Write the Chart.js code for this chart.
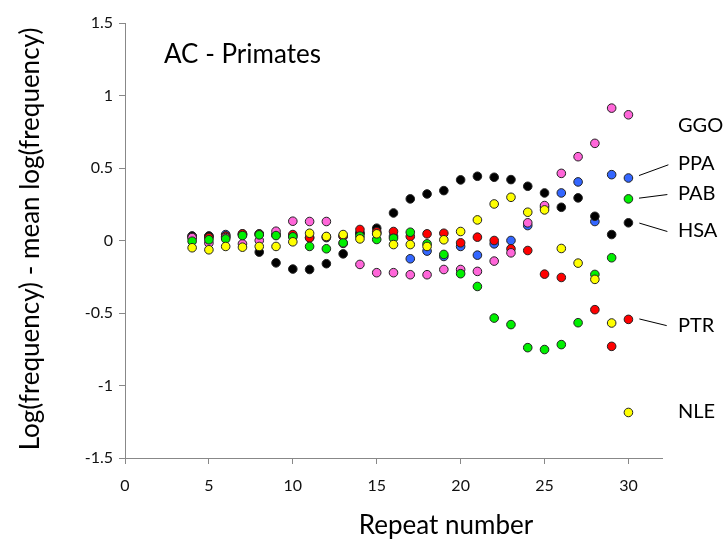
<!DOCTYPE html>
<html>
<head>
<meta charset="utf-8">
<title>AC - Primates</title>
<script src="https://cdn.jsdelivr.net/npm/chart.js@4.4.0/dist/chart.umd.min.js"></script>
<style>
  html, body { margin: 0; padding: 0; background: #fff; }
  #wrap { width: 723px; height: 546px; }
</style>
</head>
<body>
<div id="wrap"><canvas id="chart" width="723" height="546"></canvas></div>
<script>
// repeat numbers on the x axis
const repeats = [4, 5, 6, 7, 8, 9, 10, 11, 12, 13, 14, 15, 16, 17, 18, 19, 20, 21, 22, 23, 24, 25, 26, 27, 28, 29, 30];

// log(frequency) - mean log(frequency), one list per species
const hsa = [0.03, 0.03, 0.03, 0.045, -0.08, -0.154, -0.197, -0.2, -0.16, -0.092, 0.05, 0.085, 0.19, 0.287, 0.321, 0.344, 0.418, 0.443, 0.436, 0.42, 0.374, 0.328, 0.229, 0.294, 0.167, 0.041, 0.122];
const ppa = [0.03, 0.03, 0.041, 0.04, 0.045, 0.04, 0.03, 0.02, 0.02, 0.03, 0.05, 0.05, 0.03, -0.126, -0.073, -0.11, -0.041, -0.101, -0.023, 0.0, 0.103, 0.23, 0.328, 0.404, 0.131, 0.454, 0.431];
const ptr = [0.02, 0.02, 0.03, 0.046, 0.045, 0.04, 0.041, 0.018, 0.025, 0.03, 0.076, 0.06, 0.062, 0.028, 0.046, 0.05, -0.016, 0.023, 0.0, -0.057, -0.069, -0.232, -0.255, null, -0.477, -0.73, -0.544];
const ggo = [0.02, -0.018, 0.02, -0.023, 0.0, 0.064, 0.133, 0.131, 0.131, -0.02, -0.165, -0.222, -0.222, -0.236, -0.236, -0.2, -0.2, -0.213, -0.142, -0.085, 0.122, 0.241, 0.463, 0.578, 0.67, 0.913, 0.867];
const pab = [-0.005, 0.005, 0.011, 0.034, 0.039, 0.034, 0.025, -0.041, -0.057, -0.016, 0.03, 0.007, 0.016, 0.057, -0.023, -0.096, -0.229, -0.317, -0.535, -0.58, -0.739, -0.752, -0.718, -0.567, -0.234, -0.119, 0.287];
const nle = [-0.05, -0.064, -0.041, -0.046, -0.041, -0.041, -0.009, 0.05, 0.028, 0.041, 0.011, 0.046, -0.028, -0.028, -0.041, 0.005, 0.062, 0.142, 0.252, 0.298, 0.195, 0.211, -0.055, -0.156, -0.268, -0.569, -1.186];

const xTicks = [0, 5, 10, 15, 20, 25, 30];
const yTicks = [-1.5, -1, -0.5, 0, 0.5, 1, 1.5];

// species names at the right edge, with optional leader lines (data units)
const tags = [
    { name: 'GGO', y: 0.79 },
    { name: 'PPA', y: 0.529, line: [30.63, 0.448, 32.38, 0.522] },
    { name: 'PAB', y: 0.322, line: [30.63, 0.292, 32.32, 0.317] },
    { name: 'HSA', y: 0.069, line: [30.65, 0.12, 32.32, 0.062] },
    { name: 'PTR', y: -0.587, line: [30.65, -0.541, 32.28, -0.587] },
    { name: 'NLE', y: -1.178 }
];

const FONT = 'Lato, "Open Sans", sans-serif';

function points(values) {
    return repeats.map((r, i) => ({ x: r, y: values[i] })).filter(p => p.y !== null);
}

function series(label, values, color, order) {
    return {
        label: label,
        data: points(values),
        backgroundColor: color,
        borderColor: '#222',
        borderWidth: 1,
        pointRadius: 4.3,
        pointHoverRadius: 4.3,
        order: order
    };
}

/*** ======== Title, species names, axis titles ======== ***/
const annotate = {
    id: 'annotate',
    afterDatasetsDraw(chart) {
        const ctx = chart.ctx;
        const xs = chart.scales.x;
        const ys = chart.scales.y;
        ctx.save();
        ctx.fillStyle = '#000';

        ctx.font = '26px ' + FONT;
        ctx.textAlign = 'left';
        ctx.textBaseline = 'middle';
        ctx.fillText('AC - Primates', 164, 55);

        ctx.font = '20px ' + FONT;
        tags.forEach(t => {
            ctx.fillText(t.name, xs.getPixelForValue(32.95), ys.getPixelForValue(t.y));
            if (t.line) {
                ctx.beginPath();
                ctx.moveTo(xs.getPixelForValue(t.line[0]), ys.getPixelForValue(t.line[1]));
                ctx.lineTo(xs.getPixelForValue(t.line[2]), ys.getPixelForValue(t.line[3]));
                ctx.strokeStyle = '#000';
                ctx.lineWidth = 1;
                ctx.stroke();
            }
        });

        ctx.font = '26px ' + FONT;
        ctx.textAlign = 'center';
        ctx.fillText('Repeat number', 446, 526);

        ctx.translate(31, 239);
        ctx.rotate(-Math.PI / 2);
        ctx.fillText('Log(frequency) - mean log(frequency)', 0, 0);
        ctx.restore();
    }
};

new Chart(document.getElementById('chart'), {
    type: 'scatter',
    data: {
        datasets: [
            series('NLE', nle, '#FFFF00', 0),
            series('PAB', pab, '#00F000', 1),
            series('GGO', ggo, '#FF66D9', 2),
            series('PTR', ptr, '#FF0000', 3),
            series('HSA', hsa, '#000000', 4),
            series('PPA', ppa, '#3366FF', 5)
        ]
    },
    options: {
        responsive: false,
        animation: false,
        layout: { padding: { top: 23, right: 61, left: 0, bottom: 0 } },
        plugins: {
            legend: { display: false },
            tooltip: { enabled: false }
        },
        scales: {
            x: {
                type: 'linear',
                min: 0,
                max: 32,
                afterBuildTicks: s => { s.ticks = xTicks.map(v => ({ value: v })); },
                afterFit: s => { s.height = 88; },
                ticks: { font: { family: FONT, size: 16 }, color: '#111', padding: 12, maxRotation: 0 },
                grid: { drawOnChartArea: false, tickLength: 6, color: '#888' },
                border: { color: '#888' }
            },
            y: {
                type: 'linear',
                min: -1.5,
                max: 1.5,
                afterBuildTicks: s => { s.ticks = yTicks.map(v => ({ value: v })); },
                afterFit: s => { s.width = 125; },
                ticks: {
                    font: { family: FONT, size: 16 },
                    color: '#111',
                    padding: 6,
                    callback: v => String(v)
                },
                grid: { drawOnChartArea: false, tickLength: 6, color: '#888' },
                border: { color: '#888' }
            }
        }
    },
    plugins: [annotate]
});
</script>
</body>
</html>
